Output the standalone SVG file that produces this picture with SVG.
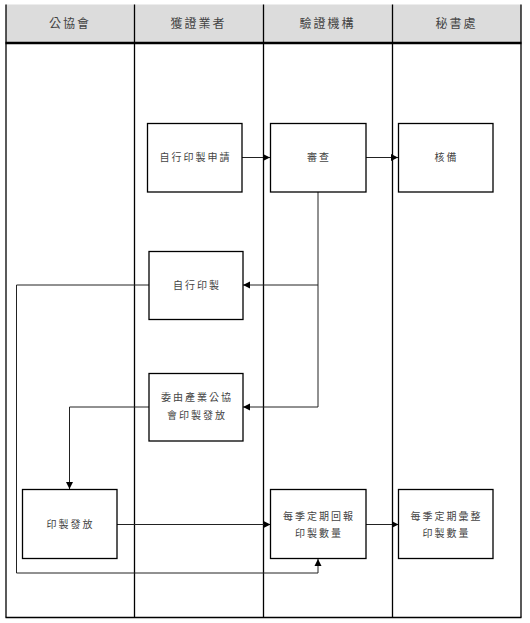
<svg xmlns="http://www.w3.org/2000/svg" width="530" height="623" viewBox="0 0 530 623">
<defs>
<style>
.lane{stroke:#000;stroke-width:1.3;fill:none}
.box{fill:#fff;stroke:#000;stroke-width:1.3}
.hd{font-family:"Noto Sans CJK TC","Noto Sans CJK SC",sans-serif;font-size:12px;fill:#444;text-anchor:middle;letter-spacing:2px}
.t{font-family:"Noto Sans CJK TC","Noto Sans CJK SC",sans-serif;font-size:10px;fill:#444;text-anchor:middle;letter-spacing:2px}
.c{stroke:#222;stroke-width:1;fill:none}
</style>
<marker id="ah" markerWidth="8" markerHeight="8" refX="7" refY="4" orient="auto" markerUnits="userSpaceOnUse">
<path d="M0,0.5 L7,4 L0,7.5 Z" fill="#000"/>
</marker>
</defs>
<rect x="0" y="0" width="530" height="623" fill="#fff"/>
<g id="header">
<rect x="6" y="4.5" width="515" height="38.5" fill="#dcdcdc"/>
<text class="hd" x="70" y="28">公協會</text>
<text class="hd" x="198.5" y="28">獲證業者</text>
<text class="hd" x="327.5" y="28">驗證機構</text>
<text class="hd" x="456.5" y="28">秘書處</text>
</g>
<g id="lanes">
<line class="lane" x1="6" y1="4.5" x2="6" y2="617.5"/>
<line class="lane" x1="134.5" y1="4.5" x2="134.5" y2="617.5"/>
<line class="lane" x1="263.5" y1="4.5" x2="263.5" y2="617.5"/>
<line class="lane" x1="392.5" y1="4.5" x2="392.5" y2="617.5"/>
<line class="lane" x1="521" y1="4.5" x2="521" y2="617.5"/>
<line x1="5.5" y1="43" x2="521.5" y2="43" stroke="#000" stroke-width="2.5"/>
<line class="lane" x1="5.5" y1="617.5" x2="521.5" y2="617.5"/>
</g>
<g id="connectors">
<line class="c" x1="242" y1="157.5" x2="270" y2="157.5" marker-end="url(#ah)"/>
<line class="c" x1="366" y1="157.5" x2="398" y2="157.5" marker-end="url(#ah)"/>
<polyline class="c" points="318,192 318,285 243,285" marker-end="url(#ah)"/>
<polyline class="c" points="318,285 318,407 243,407" marker-end="url(#ah)"/>
<polyline class="c" points="149,407 69.5,407 69.5,489" marker-end="url(#ah)"/>
<polyline class="c" points="149,285 16.5,285 16.5,573 318,573 318,559" marker-end="url(#ah)"/>
<line class="c" x1="117" y1="524.5" x2="270.5" y2="524.5" marker-end="url(#ah)"/>
<line class="c" x1="366" y1="524.5" x2="398.5" y2="524.5" marker-end="url(#ah)"/>
</g>
<g id="n1">
<rect class="box" x="147.5" y="123.5" width="94.5" height="68.5"/>
<text class="t" x="195.5" y="161">自行印製申請</text>
</g>
<g id="n2">
<rect class="box" x="270.5" y="123.5" width="95.5" height="68.5"/>
<text class="t" x="319" y="161">審查</text>
</g>
<g id="n3">
<rect class="box" x="398.5" y="123.5" width="94.5" height="68.5"/>
<text class="t" x="446.5" y="161">核備</text>
</g>
<g id="n4">
<rect class="box" x="149" y="251.5" width="94" height="68"/>
<text class="t" x="197" y="288.5">自行印製</text>
</g>
<g id="n5">
<rect class="box" x="149" y="373.5" width="94" height="67.5"/>
<text class="t" x="197" y="401">委由產業公協</text>
<text class="t" x="197" y="419">會印製發放</text>
</g>
<g id="n6">
<rect class="box" x="22.5" y="489.5" width="94.5" height="69"/>
<text class="t" x="70.5" y="528">印製發放</text>
</g>
<g id="n7">
<rect class="box" x="270.5" y="489.5" width="95.5" height="69"/>
<text class="t" x="319" y="520">每季定期回報</text>
<text class="t" x="319" y="537">印製數量</text>
</g>
<g id="n8">
<rect class="box" x="398.5" y="489.5" width="94.5" height="69"/>
<text class="t" x="446.5" y="520">每季定期彙整</text>
<text class="t" x="446.5" y="537">印製數量</text>
</g>
</svg>
